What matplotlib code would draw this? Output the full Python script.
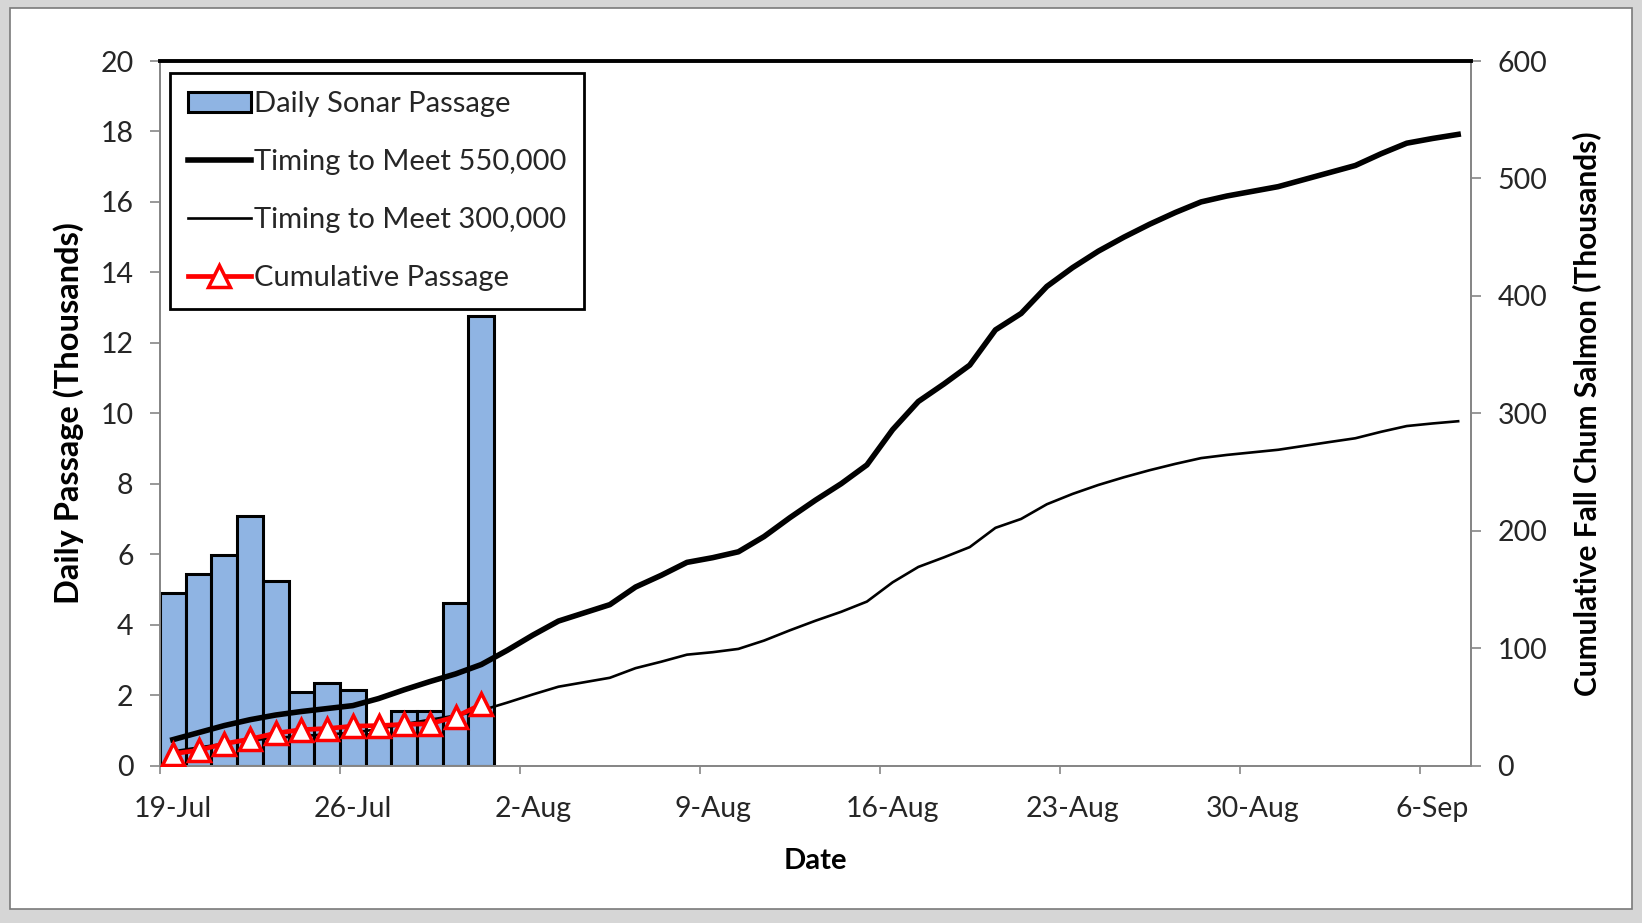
import matplotlib.pyplot as plt
import numpy as np
from matplotlib.patches import Rectangle, Patch
from matplotlib.lines import Line2D

plt.rcParams['font.family'] = ['Lato', 'DejaVu Sans']

# day 0 = 19-Jul, last day = 7-Sep
date_labels = ['19-Jul', '26-Jul', '2-Aug', '9-Aug', '16-Aug', '23-Aug', '30-Aug', '6-Sep']
label_days = [0, 7, 14, 21, 28, 35, 42, 49]

# daily sonar passage (thousands), 19-Jul .. 31-Jul
daily_passage = [4.90, 5.45, 5.98, 7.09, 5.25, 2.09, 2.35, 2.14, 0.90, 1.56, 1.56, 4.60, 12.75]
# cumulative passage (thousands)
cumulative = [10.0, 13.0, 18.5, 22.5, 27.5, 30.5, 31.5, 33.5, 34.0, 35.0, 35.5, 41.5, 52.0]

# timing curves (thousands), 19-Jul .. 7-Sep
timing_550k = [22, 28, 34, 39, 43, 46, 48.5, 51, 57, 64.5,
               71.5, 78, 86, 98, 111, 123, 130, 137, 152, 162,
               173, 177, 182, 195, 211, 226, 240, 256, 286, 310,
               325, 341, 371, 385, 408, 424, 438, 450, 461, 471,
               480, 485, 489, 493, 499, 505, 511, 521, 530, 534, 537.5]
timing_300k = [12, 15.3, 18.5, 21.3, 23.5, 25.1, 26.5, 27.8, 31.1, 35.2,
               39, 42.5, 46.9, 53.5, 60.5, 67.1, 70.9, 74.7, 82.9, 88.4,
               94.4, 96.5, 99.3, 106.4, 115.1, 123.3, 130.9, 139.6, 156, 169.1,
               177.3, 186, 202.4, 210, 222.5, 231.3, 238.9, 245.5, 251.5, 256.9,
               261.8, 264.5, 266.7, 268.9, 272.2, 275.5, 278.7, 284.2, 289.1, 291.3, 293.2]

bar_color = '#8fb4e3'
axis_gray = '#868686'
text_color = '#262626'

fig = plt.figure(figsize=(16.42, 9.23), dpi=100, facecolor='#d6d6d6')
fig.patches.append(Rectangle((10 / 1642, 14 / 923), 1622 / 1642, 901 / 923,
                             transform=fig.transFigure, facecolor='white',
                             edgecolor='#7a7a7a', lw=1.2, zorder=-5))

ax = fig.add_axes([160 / 1642, 1 - 765.5 / 923, 1311 / 1642, 704.5 / 923])
ax.set_facecolor('none')
ax2 = ax.twinx()

days_bar = np.arange(len(daily_passage))
days_line = np.arange(len(timing_550k))

ax.bar(days_bar, daily_passage, width=1.0, color=bar_color,
       edgecolor='black', linewidth=2.2, zorder=2)

ax2.plot(days_line, timing_300k, color='black', lw=1.9, zorder=3)
ax2.plot(days_line, timing_550k, color='black', lw=4.0, zorder=4)
ax2.plot(days_bar, cumulative, color='#ff0000', lw=3.4, marker='^',
         markersize=15.5, markerfacecolor='white', markeredgecolor='#ff0000',
         markeredgewidth=2.5, zorder=5)

ax.set_xlim(-0.5, 50.5)
ax.set_ylim(0, 20)
ax2.set_ylim(0, 600)
ax.set_yticks(np.arange(0, 21, 2))
ax2.set_yticks(np.arange(0, 601, 100))

# week ticks sit on day boundaries, labels centred on the day
ax.set_xticks(np.arange(-0.5, 51, 7))
ax.set_xticklabels([])
ax.set_xticks(label_days, minor=True)
ax.set_xticklabels(date_labels, minor=True)
ax.tick_params(axis='x', which='minor', length=0, pad=22, labelsize=20.5, labelcolor=text_color)
ax.tick_params(axis='x', which='major', length=6, width=1.2, color=axis_gray)
ax.tick_params(axis='y', length=7, width=1.2, color=axis_gray, pad=12,
               labelsize=20.5, labelcolor=text_color)
ax2.tick_params(axis='y', length=7, width=1.2, color=axis_gray, pad=12,
                labelsize=20.5, labelcolor=text_color)

for a in (ax, ax2):
    for side in ('left', 'right', 'bottom'):
        a.spines[side].set_color(axis_gray)
        a.spines[side].set_linewidth(1.3)
ax.spines['top'].set_visible(False)
ax2.spines['top'].set_color('black')
ax2.spines['top'].set_linewidth(2.8)

ax.set_xlabel('Date', fontsize=21, fontweight='bold', labelpad=19)
ax.set_ylabel('Daily Passage (Thousands)', fontsize=23.5, fontweight='bold', labelpad=12)
ax2.set_ylabel('Cumulative Fall Chum Salmon (Thousands)', fontsize=21.5,
               fontweight='bold', labelpad=18)

handles = [
    Patch(facecolor=bar_color, edgecolor='black', linewidth=2.2),
    Line2D([], [], color='black', lw=4.0),
    Line2D([], [], color='black', lw=1.9),
    Line2D([], [], color='#ff0000', lw=3.4, marker='^', markersize=15.5,
           markerfacecolor='white', markeredgecolor='#ff0000', markeredgewidth=2.5),
]
labels = ['Daily Sonar Passage', 'Timing to Meet 550,000',
          'Timing to Meet 300,000', 'Cumulative Passage']
leg = ax2.legend(handles, labels, loc='upper left', bbox_to_anchor=(0.0076, 0.983),
                 borderaxespad=0, fontsize=21, frameon=True, fancybox=False,
                 edgecolor='black', framealpha=1, handlelength=2.15,
                 handletextpad=0.1, labelspacing=1.1, borderpad=0.62)
leg.get_frame().set_linewidth(2.0)
for t in leg.get_texts():
    t.set_color(text_color)

fig.savefig('out.png', dpi=100, facecolor=fig.get_facecolor())
